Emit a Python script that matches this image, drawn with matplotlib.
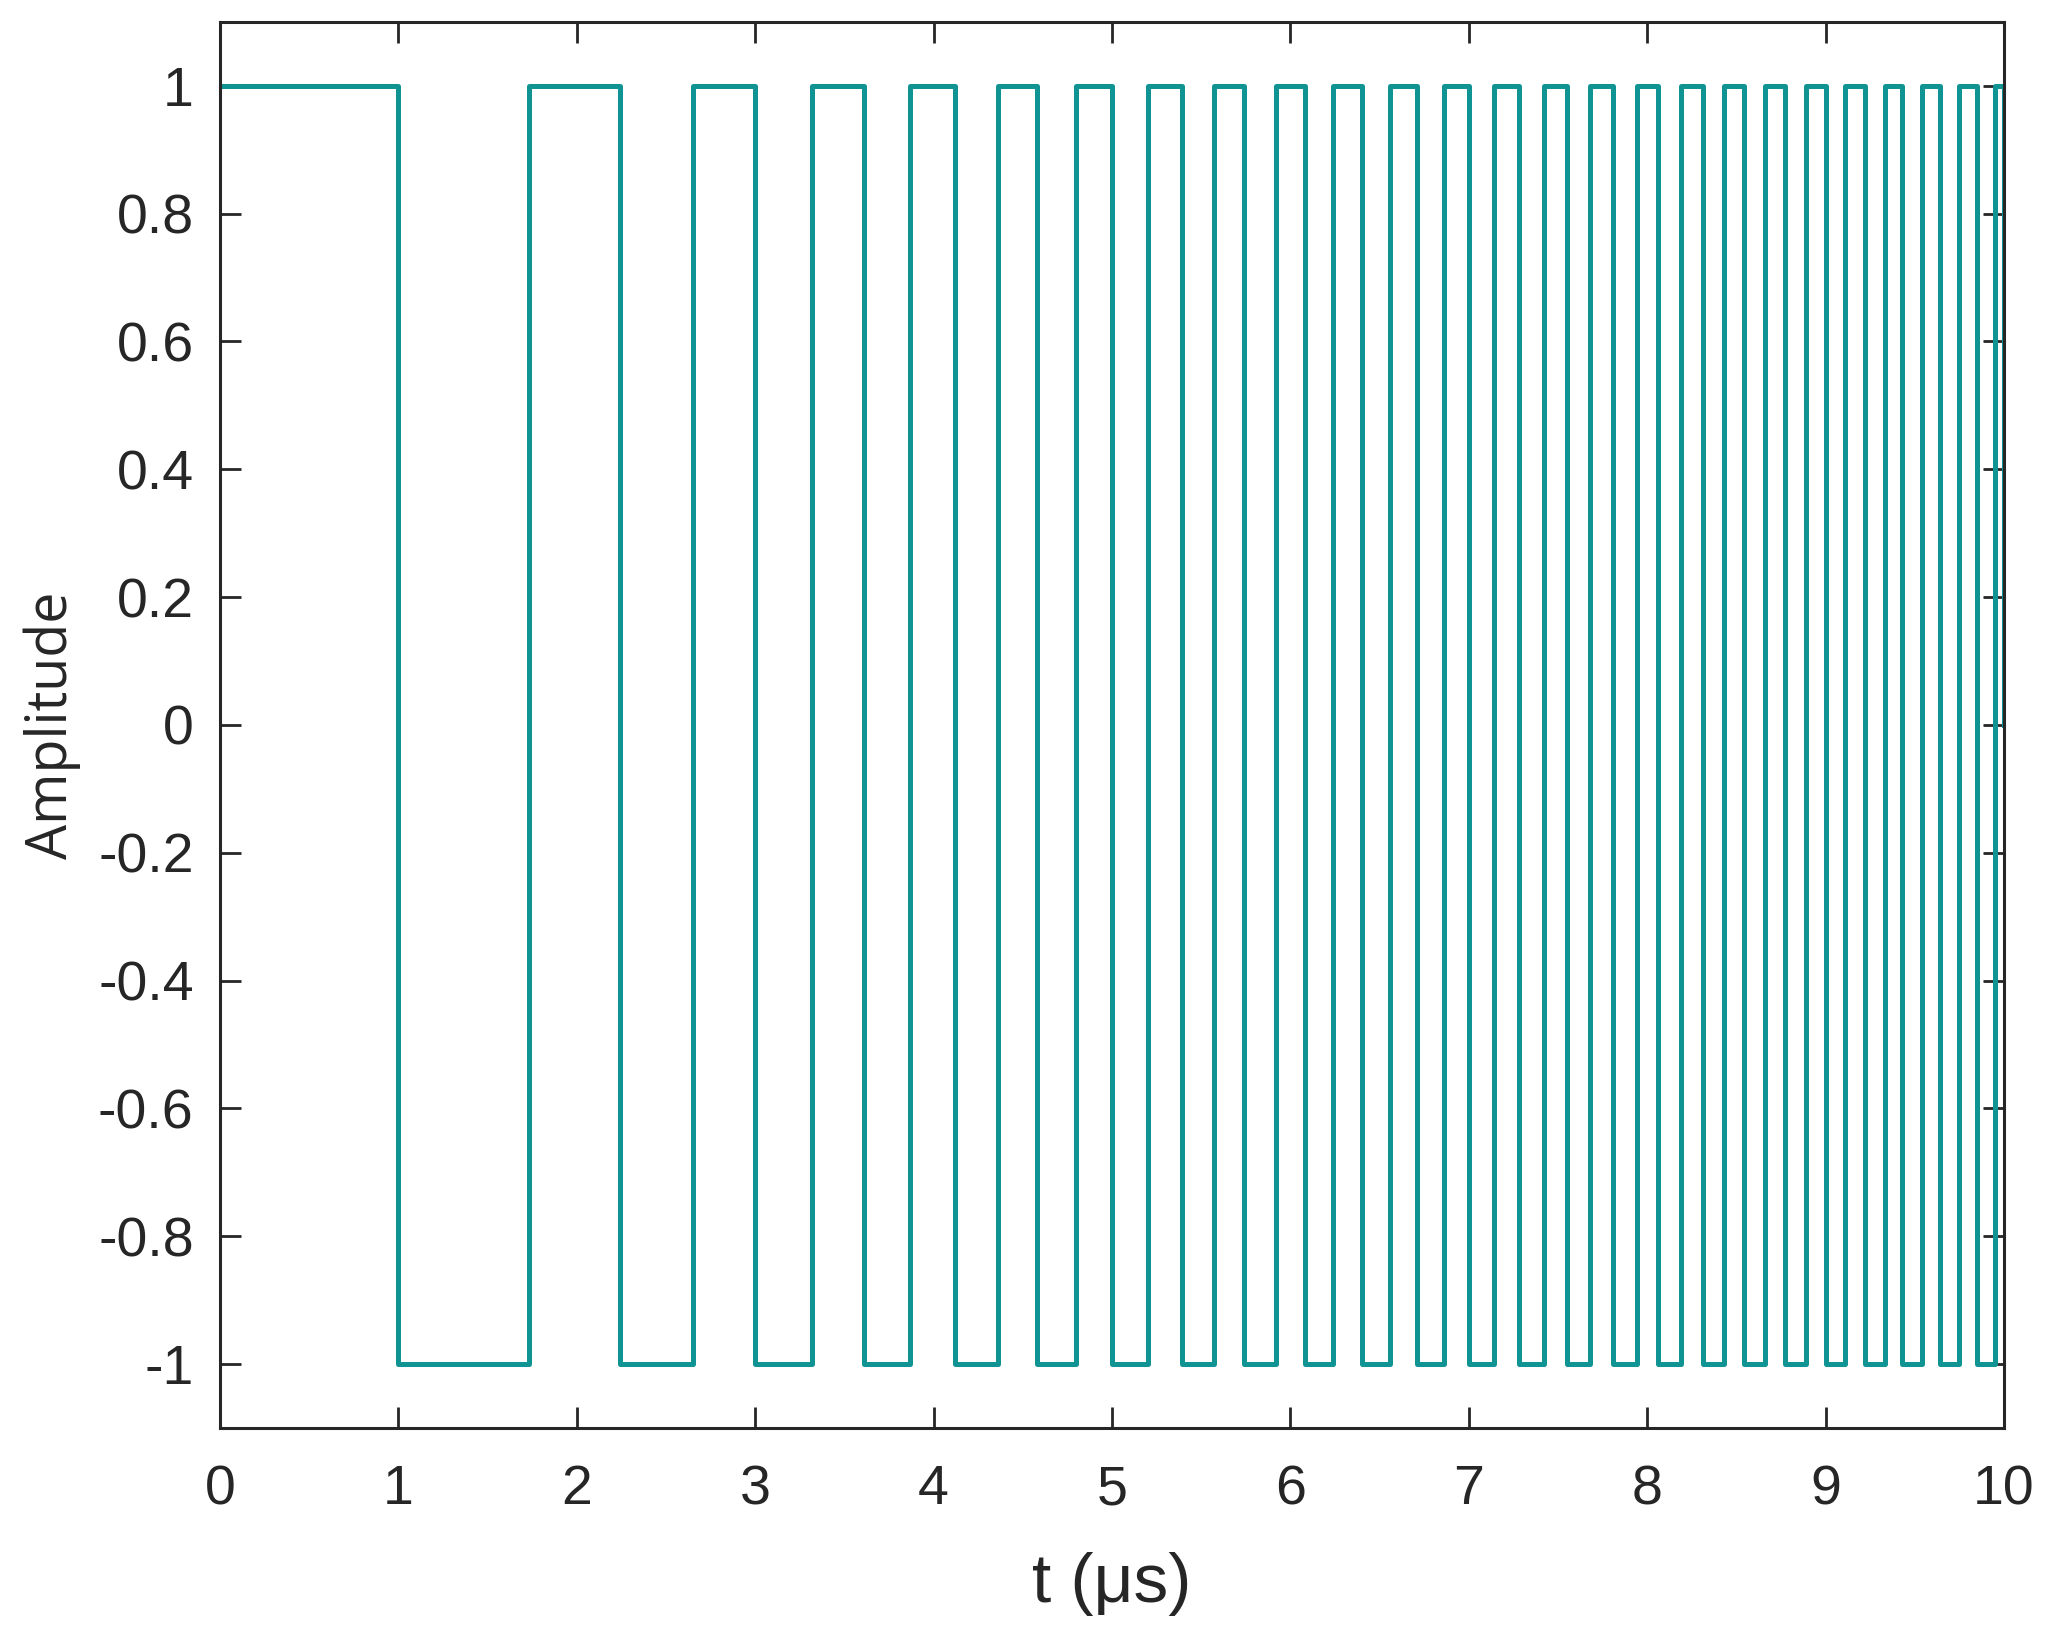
import numpy as np
import matplotlib
matplotlib.use("Agg")
import matplotlib.pyplot as plt

# switching instants (us); level flips at each one
switch_times = [1.00, 1.73, 2.24, 2.65, 3.00, 3.32, 3.61, 3.87, 4.12, 4.36,
                4.58, 4.80, 5.00, 5.20, 5.39, 5.57, 5.74, 5.92, 6.08, 6.24,
                6.40, 6.56, 6.71, 6.86, 7.00, 7.14, 7.28, 7.42, 7.55, 7.68,
                7.81, 7.94, 8.06, 8.19, 8.31, 8.43, 8.54, 8.66, 8.77, 8.89,
                9.00, 9.11, 9.22, 9.33, 9.43, 9.54, 9.64, 9.75, 9.85, 9.95]
start_level = 1
t_start, t_end = 0.0, 10.0
end_value = 0

x_ticks = list(range(0, 11))
y_ticks = [-1, -0.8, -0.6, -0.4, -0.2, 0, 0.2, 0.4, 0.6, 0.8, 1]
y_labels = ["-1", "-0.8", "-0.6", "-0.4", "-0.2", "0", "0.2", "0.4", "0.6", "0.8", "1"]

# build the step trace
t = [t_start]
y = [start_level]
level = start_level
for ts in switch_times:
    t += [ts, ts]
    y += [level, -level]
    level = -level
t += [t_end, t_end]
y += [level, end_value]

fig = plt.figure(figsize=(20.51, 16.37), dpi=100)
ax = fig.add_axes([0.1073, 0.1277, 0.8698, 0.8589])
ax.plot(t, y, color="#0f9393", linewidth=3.6, solid_joinstyle="round")

ax.set_xlim(0, 10)
ax.set_ylim(-1.1, 1.1)
ax.set_xticks(x_ticks)
ax.set_xticklabels([str(v) for v in x_ticks])
ax.set_yticks(y_ticks)
ax.set_yticklabels(y_labels)

for s in ax.spines.values():
    s.set_linewidth(2.2)
    s.set_color("#262626")
ax.tick_params(direction="in", length=15, width=2, color="#262626",
               top=True, right=True, labelsize=40, labelcolor="#262626")
ax.tick_params(axis="x", pad=26)
ax.tick_params(axis="y", pad=19)
for lab in ax.get_xticklabels() + ax.get_yticklabels():
    lab.set_fontfamily("Liberation Sans")

ax.set_xlabel("t (μs)", fontsize=50, family="Liberation Sans", color="#262626", labelpad=26)
ax.set_ylabel("Amplitude", fontsize=40, family="Open Sans", color="#262626", labelpad=12)

fig.savefig("out.png", dpi=100)
